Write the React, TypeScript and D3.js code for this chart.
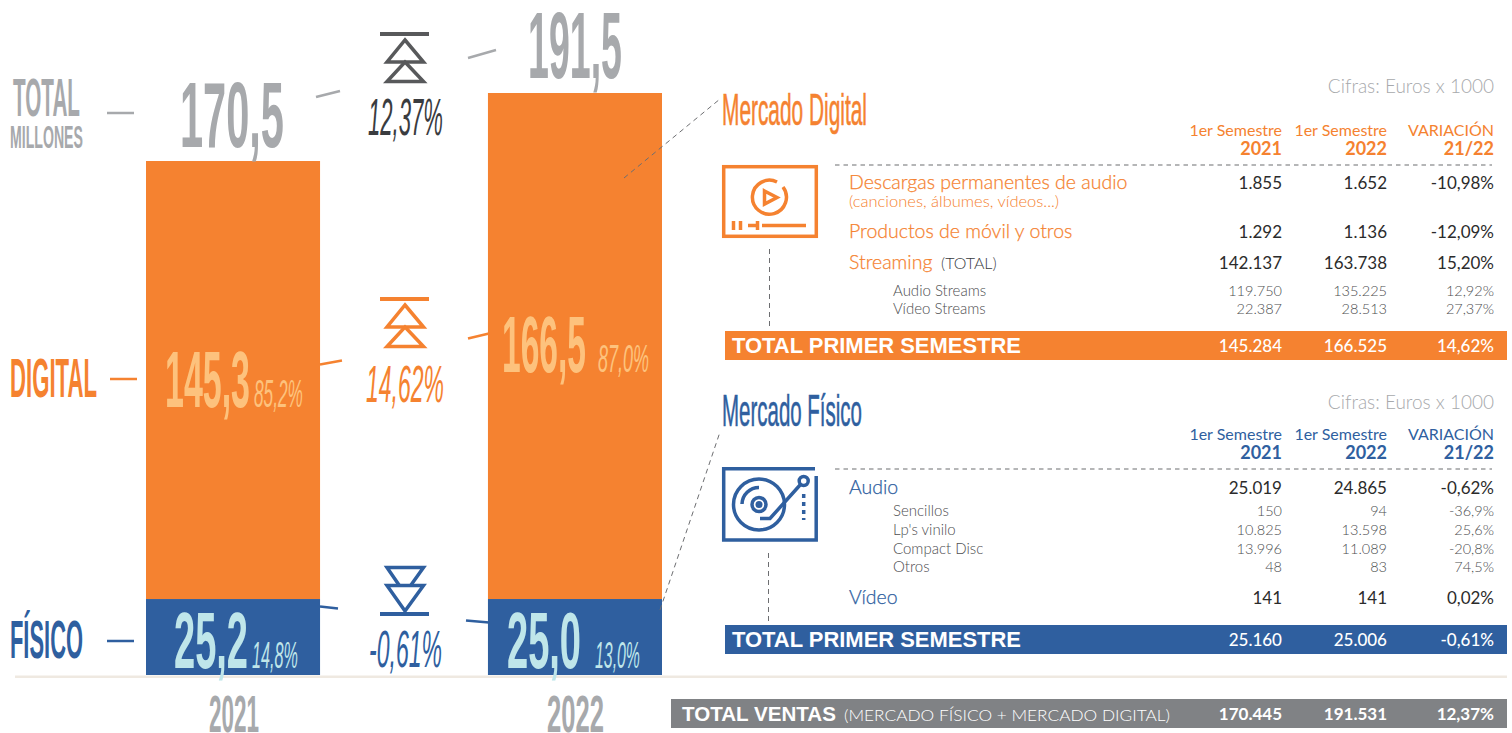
import React from "react";
import { formatLocale, scaleBand, scaleLinear, scaleOrdinal, stack } from "d3";

const years = ["2021", "2022"];
const fisico = [25.2, 25.0];
const digital = [145.3, 166.5];
const totals = [170.5, 191.5];
const shareDigital = [85.2, 87.0];
const shareFisico = [14.8, 13.0];
const variation = { total: 12.37, digital: 14.62, fisico: -0.61 };

const columns = ["y2021", "y2022", "var"];
const semester = "1er Semestre";

const digitalLabels = ["Descargas permanentes de audio", "Productos de móvil y otros", "Streaming", "Audio Streams", "Vídeo Streams"];
const digital2021 = [1855, 1292, 142137, 119750, 22387];
const digital2022 = [1652, 1136, 163738, 135225, 28513];
const digitalVar = [-10.98, -12.09, 15.2, 12.92, 27.37];
const digitalSub = [false, false, false, true, true];
const digitalTotals = [145284, 166525, 14.62];

const fisicoLabels = ["Audio", "Sencillos", "Lp's vinilo", "Compact Disc", "Otros", "Vídeo"];
const fisico2021 = [25019, 150, 10825, 13996, 48, 141];
const fisico2022 = [24865, 94, 13598, 11089, 83, 141];
const fisicoVar = [-0.62, -36.9, 25.6, -20.8, 74.5, 0.02];
const fisicoSub = [false, true, true, true, true, false];
const fisicoTotals = [25160, 25006, -0.61];

const ventasTotals = [170445, 191531, 12.37];

const ORANGE = "#f58230";
const BLUE = "#2f5f9f";
const GREY = "#a7a9ac";
const DARK = "#3a3c3f";
const PEACH = "#fdc27d";
const ICE = "#bfe6ea";
const DISPLAY = "'Liberation Sans Narrow', 'Liberation Sans', sans-serif";
const WIDE = "'Liberation Sans', sans-serif";
const BODY = "Lato, 'Open Sans', sans-serif";

const locale = formatLocale({ decimal: ",", thousands: ".", grouping: [3], currency: ["", "€"], minus: "-" });
const f1 = locale.format(".1f");
const f2 = locale.format(".2f");
const fInt = locale.format(",d");
const pct2 = (v: number) => f2(v) + "%";
const pct1 = (v: number) => f1(v) + "%";

const BASE = 675;
const x = scaleBand<string>().domain(years).range([146, 662]).paddingInner(0.491);
// the source artwork draws each year's bar to its own proportion
const yByYear = [
  scaleLinear().domain([0, totals[0]]).range([BASE, 161]),
  scaleLinear().domain([0, totals[1]]).range([BASE, 93]),
];
const colX = scaleOrdinal<string, number>().domain(columns).range([1282, 1387, 1494]);

const series = stack<any>().keys(["fisico", "digital"])(
  years.map((y, i) => ({ year: y, fisico: fisico[i], digital: digital[i] }))
);
const seriesColor: Record<string, string> = { fisico: BLUE, digital: ORANGE };

// squeezes a text horizontally to the span w, keeping its box honest
function squeeze(x: number, y: number, w: number) {
  return (el: SVGTextElement | null) => {
    if (!el) return;
    const n = el.getComputedTextLength();
    el.setAttribute("transform", `translate(${x},${y}) scale(${w / n},1)`);
  };
}

function D(props: any) {
  const { x, y, w, size, fill, italic, weight, thick, family, children } = props;
  return (
    <text ref={squeeze(x, y, w)} fontFamily={family || DISPLAY} fontSize={size} fill={fill}
      stroke={thick ? fill : "none"} strokeWidth={thick || 0}
      fontStyle={italic ? "italic" : "normal"} fontWeight={weight || "bold"}>
      {children}
    </text>
  );
}

function Arrows({ color, dy, down }: any) {
  if (down) {
    return (
      <g fill="none" stroke={color} strokeWidth={3.5}>
        <path d="M399 585L387 567.5H423.5L411 585" />
        <path d="M387 585.5H423.5L405 611Z" />
        <rect x={380} y={612} width={49} height={4} fill={color} stroke="none" />
      </g>
    );
  }
  return (
    <g fill="none" stroke={color} strokeWidth={3.5} transform={`translate(0,${dy})`}>
      <rect x={380} y={32} width={49} height={4} fill={color} stroke="none" />
      <path d="M405 40L423.5 62H387Z" />
      <path d="M405 62L423.5 81.5H387Z" />
    </g>
  );
}

function PlayIcon() {
  return (
    <g fill="none" stroke={ORANGE} strokeWidth={3.5}>
      <rect x={723.7} y={166.7} width={92.6} height={69.6} />
      <path d="M777 182A17 17 0 1 0 783 187" />
      <path d="M764.5 191L777 197.5L764.5 204Z" />
      <path d="M733.5 221V230M740.5 221V230M748 225.5H756M757.5 221V230M762 225.5H806" />
    </g>
  );
}

function DiscIcon() {
  return (
    <g fill="none" stroke={BLUE} strokeWidth={3.5}>
      <path d="M815 468.7H723.7V540H816.2V476" />
      <circle cx={759} cy={504.5} r={25.5} />
      <circle cx={759} cy={504.5} r={7} />
      <circle cx={759} cy={504.5} r={3.5} fill={BLUE} stroke="none" />
      <path d="M742 504A17 17 0 0 1 759 487.5" />
      <circle cx={803.7} cy={481} r={4.5} />
      <path d="M800.5 484.5L770 518.5H760" />
      <path d="M803.7 494V520" strokeDasharray="4 4" />
    </g>
  );
}

function Header({ color, y0, yearY, rule }: any) {
  return (
    <g fontFamily={BODY} fill={color} textAnchor="end">
      <text x={colX("y2021")} y={y0} fontSize={16}>{semester}</text>
      <text x={colX("y2022")} y={y0} fontSize={16}>{semester}</text>
      <text x={colX("var")} y={y0} fontSize={16}>VARIACIÓN</text>
      <text x={colX("y2021")} y={yearY} fontSize={18} fontWeight="bold">{years[0]}</text>
      <text x={colX("y2022")} y={yearY} fontSize={18} fontWeight="bold">{years[1]}</text>
      <text x={colX("var")} y={yearY} fontSize={18} fontWeight="bold">21/22</text>
      <line x1={835} x2={1492} y1={rule} y2={rule} stroke="#6d6e71" strokeWidth={1.2} strokeDasharray="4.5 4" />
    </g>
  );
}

function Rows({ labels, a, b, v, sub, ys, color, fmtSub }: any) {
  return (
    <g fontFamily={BODY}>
      {labels.map((label: string, i: number) => (
        <g key={label}>
          <text x={sub[i] ? 893 : 849} y={ys[i]} fontSize={sub[i] ? 15 : 19.5} fill={sub[i] ? "#4d4e50" : color}
            stroke={sub[i] ? "none" : color} strokeWidth={sub[i] ? 0 : 0.25} fontWeight={300}>
            {label}
          </text>
          <g textAnchor="end" fontSize={sub[i] ? 14.5 : 17} fill={sub[i] ? "#4d4e50" : "#2b2b2b"} fontWeight={sub[i] ? 300 : 400}>
            <text x={colX("y2021")} y={ys[i]}>{fInt(a[i])}</text>
            <text x={colX("y2022")} y={ys[i]}>{fInt(b[i])}</text>
            <text x={colX("var")} y={ys[i]}>{sub[i] ? fmtSub(v[i]) : pct2(v[i])}</text>
          </g>
        </g>
      ))}
    </g>
  );
}

function TotalBand({ y, color, values }: any) {
  return (
    <g>
      <rect x={725} y={y} width={782} height={29} fill={color} />
      <D x={732} y={y + 22} w={289} size={22} fill="#fff" family={WIDE}>TOTAL PRIMER SEMESTRE</D>
      <g fontFamily={BODY} fontSize={17} fontWeight={500} fill="#fff" textAnchor="end">
        <text x={colX("y2021")} y={y + 21}>{fInt(values[0])}</text>
        <text x={colX("y2022")} y={y + 21}>{fInt(values[1])}</text>
        <text x={colX("var")} y={y + 21}>{pct2(values[2])}</text>
      </g>
    </g>
  );
}

export default function App() {
  return (
    <svg width={1512} height={733} style={{ position: "absolute", left: 0, top: 0, background: "#fff" }}>
      {/* stacked bars */}
      {series.map((s: any) =>
        s.map((d: any, i: number) => (
          <rect key={s.key + i} x={x(years[i])} width={x.bandwidth()} y={yByYear[i](d[1])}
            height={yByYear[i](d[0]) - yByYear[i](d[1])} fill={seriesColor[s.key]} />
        ))
      )}
      <line x1={15} x2={1507} y1={676.8} y2={676.8} stroke="#efe9e1" strokeWidth={2.5} />

      {/* left column titles */}
      <D x={13} y={116} w={67} size={54} fill={GREY}>TOTAL</D>
      <D x={10} y={148} w={73} size={32} fill={GREY}>MILLONES</D>
      <D x={10} y={397} w={87} size={55} fill={ORANGE}>DIGITAL</D>
      <D x={10} y={658} w={73} size={54} fill={BLUE}>FÍSICO</D>
      <g strokeWidth={2.5} fill="none">
        <line x1={107} x2={134} y1={113} y2={113} stroke={GREY} />
        <line x1={110} x2={137} y1={379} y2={379} stroke={ORANGE} />
        <line x1={107} x2={134} y1={641} y2={641} stroke={BLUE} />
        <line x1={316} x2={340} y1={97} y2={91} stroke={GREY} />
        <line x1={468} x2={496} y1={58} y2={50} stroke={GREY} />
        <line x1={320} x2={342} y1={364.5} y2={360.5} stroke={ORANGE} />
        <line x1={468} x2={489} y1={338.5} y2={333.5} stroke={ORANGE} />
        <line x1={320} x2={338} y1={606.5} y2={608.5} stroke={BLUE} />
        <line x1={466} x2={489} y1={620.5} y2={622.5} stroke={BLUE} />
      </g>

      {/* totals on top of the bars */}
      <D x={180} y={147} w={104} size={93} fill={GREY}>{f1(totals[0])}</D>
      <D x={528} y={78} w={94} size={95} fill={GREY}>{f1(totals[1])}</D>

      {/* bar labels */}
      <D x={165} y={407} w={85} size={80} fill={PEACH}>{f1(digital[0])}</D>
      <D x={254} y={407} w={49} size={38} fill={PEACH} italic weight="normal">{pct1(shareDigital[0])}</D>
      <D x={502} y={372} w={84} size={80} fill={PEACH}>{f1(digital[1])}</D>
      <D x={598} y={372} w={51} size={38} fill={PEACH} italic weight="normal">{pct1(shareDigital[1])}</D>
      <D x={174} y={668} w={74} size={80} fill={ICE}>{f1(fisico[0])}</D>
      <D x={252} y={668} w={46} size={37} fill={ICE} italic weight="normal">{pct1(shareFisico[0])}</D>
      <D x={507} y={668} w={74} size={80} fill={ICE}>{f1(fisico[1])}</D>
      <D x={595} y={668} w={45} size={37} fill={ICE} italic weight="normal">{pct1(shareFisico[1])}</D>

      {/* variation markers */}
      <Arrows color="#58595b" dy={0} />
      <Arrows color={ORANGE} dy={265} />
      <Arrows color={BLUE} down />
      <D x={368} y={135} w={75} size={52} fill={DARK} italic weight="normal">{pct2(variation.total)}</D>
      <D x={366} y={402} w={78} size={52} fill={ORANGE} italic weight="normal">{pct2(variation.digital)}</D>
      <D x={369} y={667} w={73} size={52} fill={BLUE} italic weight="normal">{pct2(variation.fisico)}</D>

      {/* year labels */}
      <D x={209} y={732} w={50} size={52} fill={GREY}>{years[0]}</D>
      <D x={547} y={732} w={57} size={52} fill={GREY}>{years[1]}</D>

      {/* leaders */}
      <g stroke="#6d6e71" strokeWidth={1} strokeDasharray="5 4" fill="none">
        <line x1={624} y1={178} x2={720} y2={99} />
        <line x1={660} y1={610} x2={720} y2={432} />
        <line x1={769.5} x2={769.5} y1={249} y2={328} />
        <line x1={768.5} x2={768.5} y1={553} y2={623} />
      </g>

      {/* digital table */}
      <D x={722} y={125} w={145} size={45} fill={ORANGE} weight="normal" thick={0.6}>Mercado Digital</D>
      <text x={1494} y={93} textAnchor="end" fontFamily={BODY} fontSize={19} fontWeight={300} fill="#a7a9ac">Cifras: Euros x 1000</text>
      <Header color={ORANGE} y0={136} yearY={155} rule={165} />
      <PlayIcon />
      <Rows labels={digitalLabels} a={digital2021} b={digital2022} v={digitalVar} sub={digitalSub}
        ys={[189, 238, 269, 296, 314]} color={ORANGE} fmtSub={pct2} />
      <text x={849} y={207} fontFamily={BODY} fontSize={16.5} fontWeight={300} fill={ORANGE}>(canciones, álbumes, vídeos...)</text>
      <text x={941} y={269} fontFamily={BODY} fontSize={16} fontWeight={300} fill={DARK}>(TOTAL)</text>
      <TotalBand y={331} color={ORANGE} values={digitalTotals} />

      {/* fisico table */}
      <D x={722} y={426} w={140} size={45} fill={BLUE} weight="normal" thick={0.6}>Mercado Físico</D>
      <text x={1494} y={409} textAnchor="end" fontFamily={BODY} fontSize={19} fontWeight={300} fill="#a7a9ac">Cifras: Euros x 1000</text>
      <Header color={BLUE} y0={440} yearY={459} rule={469} />
      <DiscIcon />
      <Rows labels={fisicoLabels} a={fisico2021} b={fisico2022} v={fisicoVar} sub={fisicoSub}
        ys={[494, 516, 535, 554, 572, 604]} color={BLUE} fmtSub={pct1} />
      <TotalBand y={625} color={BLUE} values={fisicoTotals} />

      {/* total ventas */}
      <rect x={671} y={699} width={836} height={29} fill="#808285" />
      <D x={682} y={721} w={154} size={21} fill="#fff" family={WIDE}>TOTAL VENTAS</D>
      <text x={844} y={721} textLength={326} lengthAdjust="spacingAndGlyphs" fontFamily={BODY} fontSize={15} fontWeight={300} fill="#fff">(MERCADO FÍSICO + MERCADO DIGITAL)</text>
      <g fontFamily={BODY} fontSize={17} fontWeight={700} fill="#fff" textAnchor="end">
        <text x={colX("y2021")} y={720}>{fInt(ventasTotals[0])}</text>
        <text x={colX("y2022")} y={720}>{fInt(ventasTotals[1])}</text>
        <text x={colX("var")} y={720}>{pct2(ventasTotals[2])}</text>
      </g>
    </svg>
  );
}
